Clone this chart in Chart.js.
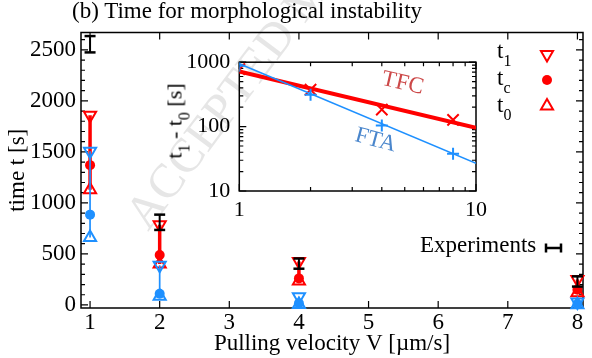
<!DOCTYPE html>
<html>
<head>
<meta charset="utf-8">
<script src="https://cdn.jsdelivr.net/npm/chart.js@4/dist/chart.umd.min.js"></script>
<style>
html, body { margin: 0; padding: 0; background: #fff; }
#wrap { position: relative; width: 592px; height: 358px; overflow: hidden;
  font-family: "Liberation Serif", "Times New Roman", serif; color: #000; }
#wrap canvas { position: absolute; }
#main { left: 0; top: 0; }
#inset { left: 150px; top: 40px; }
.t { position: absolute; font-size: 23px; line-height: 23px; white-space: nowrap; }
.t sub { font-size: 16px; vertical-align: -8px; line-height: 0; }
#mark { font-size: 48px; line-height: 48px; color: #e6e6e6; left: 148px; top: 192px;
  transform-origin: 0 40px; transform: rotate(-53deg); }
.lab { transform: translate(-50%, -50%) rotate(13deg); }
#ititle { font-size: 22px; transform: translate(-50%, -50%) rotate(-90deg); }
</style>
</head>
<body>
<div id="wrap">
  <div id="mark" class="t">ACCEPTED MANUSCRIPT</div>
  <canvas id="main" width="592" height="358"></canvas>
  <canvas id="inset" width="345" height="185"></canvas>
  <div class="t" style="left:72px;top:-1px">(b) Time for morphological instability</div>
  <div class="t" style="left:497px;top:39px">t<sub>1</sub></div>
  <div class="t" style="left:497px;top:66px">t<sub>c</sub></div>
  <div class="t" style="left:497px;top:92.5px">t<sub>0</sub></div>
  <div class="t" style="left:420px;top:232.5px">Experiments</div>
  <div id="ititle" class="t" style="left:174px;top:121px">t<sub>1</sub> - t<sub>0</sub> [s]</div>
  <div class="t lab" style="left:403px;top:82px;color:#cc4848">TFC</div>
  <div class="t lab" style="left:376px;top:139px;color:#4a86cc;transform:translate(-50%,-50%) rotate(15deg)">FTA</div>
</div>
<script>
const FONT = '"Liberation Serif", "Times New Roman", serif';
const RED = '#ff0000';
const BLUE = 'rgb(30,144,255)';

// main plot: pulling velocity V [um/s] vs time [s]
const V = [1, 2, 4, 8];
const RED_T1 = [1860, 785, 425, 250];
const RED_TC = [1370, 490, 260, 150];
const RED_T0 = [1130, 400, 235, 120];
const BLUE_T1 = [1505, 390, 80, 30];
const BLUE_TC = [885, 110, 15, 8];
const BLUE_T0 = [660, 85, 5, 3];
const EXP_MEAN = [2555, 810, 405, 230];
const EXP_ERR = [80, 75, 50, 50];

const X_TICKS = [1, 2, 3, 4, 5, 6, 7, 8];
const Y_TICKS = [0, 500, 1000, 1500, 2000, 2500];

// inset: t1 - t0 vs V, log-log
const INSET_V = [1, 2, 4, 8];
const TFC = [782, 374, 184, 127];
const FTA = [880, 311, 104, 38];
const FIT_V = [1, 10];
const TFC_FIT = [716, 96];
const FTA_FIT = [945, 27];
const INSET_X_TICKS = [1, 10];
const INSET_Y_TICKS = [10, 100, 1000];

const pts = (xs, ys) => xs.map((x, i) => ({ x, y: ys[i] }));
function segs(lo, hi) {
  const out = [];
  V.forEach((x, i) => { out.push({ x, y: lo[i] }, { x, y: hi[i] }, { x, y: null }); });
  return out;
}

function tri(ctx, x, y, r, down) {
  const s = down ? -1 : 1;
  ctx.beginPath();
  ctx.moveTo(x, y - s * r);
  ctx.lineTo(x + 0.866 * r, y + s * 0.5 * r);
  ctx.lineTo(x - 0.866 * r, y + s * 0.5 * r);
  ctx.closePath();
  ctx.stroke();
}

// box + inward ticks on all four sides
function frame(cfg) {
  return {
    id: 'frame',
    beforeDatasetsDraw(chart) {
      const { ctx, chartArea: a, scales: { x, y } } = chart;
      ctx.save();
      ctx.strokeStyle = '#000';
      ctx.lineWidth = 1.5;
      ctx.strokeRect(a.left, a.top, a.right - a.left, a.bottom - a.top);
      ctx.lineWidth = 1.2;
      ctx.beginPath();
      const xt = (list, len) => list.forEach(v => {
        const px = x.getPixelForValue(v);
        ctx.moveTo(px, a.bottom); ctx.lineTo(px, a.bottom - len);
        ctx.moveTo(px, a.top); ctx.lineTo(px, a.top + len);
      });
      const yt = (list, len) => list.forEach(v => {
        const py = y.getPixelForValue(v);
        ctx.moveTo(a.left, py); ctx.lineTo(a.left + len, py);
        ctx.moveTo(a.right, py); ctx.lineTo(a.right - len, py);
      });
      xt(cfg.xMajor, 7); xt(cfg.xMinor, 4);
      yt(cfg.yMajor, 7); yt(cfg.yMinor, 4);
      ctx.stroke();
      ctx.restore();
    }
  };
}

const mainMinorY = [];
for (let v = 100; v <= 2600; v += 100) if (v % 500) mainMinorY.push(v);

const legendMarks = {
  id: 'legendMarks',
  afterDraw(chart) {
    const ctx = chart.ctx;
    ctx.save();
    ctx.strokeStyle = RED; ctx.fillStyle = RED; ctx.lineWidth = 2;
    tri(ctx, 547, 54.5, 7, true);
    ctx.beginPath(); ctx.arc(547, 80, 5, 0, Math.PI * 2); ctx.fill();
    tri(ctx, 547, 106, 7, false);
    // experiments key
    ctx.strokeStyle = '#000'; ctx.lineWidth = 2.5;
    ctx.beginPath();
    ctx.moveTo(546, 248); ctx.lineTo(561, 248);
    ctx.moveTo(546, 243.5); ctx.lineTo(546, 252.5);
    ctx.moveTo(561, 243.5); ctx.lineTo(561, 252.5);
    ctx.stroke();
    ctx.restore();
  }
};

const tickFont = { family: FONT, size: 23 };
const numLabel = v => String(v);

new Chart(document.getElementById('main'), {
  type: 'scatter',
  data: {
    datasets: [
      { data: segs(EXP_MEAN.map((m, i) => m - EXP_ERR[i]), EXP_MEAN.map((m, i) => m + EXP_ERR[i])),
        showLine: true, borderColor: '#000', borderWidth: 2, pointStyle: 'line', pointRadius: 5.5,
        pointBorderWidth: 2.5, pointBorderColor: '#000', spanGaps: false, clip: false, order: 0 },
      { data: pts(V, BLUE_TC), pointStyle: 'circle', pointRadius: 5, backgroundColor: BLUE,
        borderColor: BLUE, pointBorderWidth: 0, clip: false, order: 1 },
      { data: pts(V, BLUE_T1), pointStyle: 'triangle', rotation: 180, pointRadius: 7,
        borderColor: BLUE, backgroundColor: 'transparent', pointBorderWidth: 2, clip: false, order: 2 },
      { data: pts(V, BLUE_T0), pointStyle: 'triangle', pointRadius: 7,
        borderColor: BLUE, backgroundColor: 'transparent', pointBorderWidth: 2, clip: false, order: 2 },
      { data: segs(BLUE_T0, BLUE_T1), showLine: true, borderColor: BLUE, borderWidth: 1.7,
        pointRadius: 0, spanGaps: false, clip: false, order: 3 },
      { data: pts(V, RED_TC), pointStyle: 'circle', pointRadius: 5, backgroundColor: RED,
        borderColor: RED, pointBorderWidth: 0, clip: false, order: 4 },
      { data: pts(V, RED_T1), pointStyle: 'triangle', rotation: 180, pointRadius: 7,
        borderColor: RED, backgroundColor: 'transparent', pointBorderWidth: 2, clip: false, order: 5 },
      { data: pts(V, RED_T0), pointStyle: 'triangle', pointRadius: 7,
        borderColor: RED, backgroundColor: 'transparent', pointBorderWidth: 2, clip: false, order: 5 },
      { data: segs(RED_T0, RED_T1), showLine: true, borderColor: RED, borderWidth: 3.5,
        pointRadius: 0, spanGaps: false, clip: false, order: 6 }
    ]
  },
  options: {
    responsive: false,
    animation: false,
    layout: { padding: { left: 0, right: 4, top: 32.5, bottom: 0 } },
    plugins: { legend: { display: false }, tooltip: { enabled: false } },
    scales: {
      x: {
        type: 'linear', min: 0.87, max: 8.08,
        afterBuildTicks: s => { s.ticks = X_TICKS.map(v => ({ value: v })); },
        afterFit: s => { s.height = 50; },
        grid: { display: false, drawTicks: false }, border: { display: false },
        ticks: { padding: 1, color: '#000', font: tickFont, maxRotation: 0, autoSkip: false, callback: numLabel },
        title: { display: true, text: 'Pulling velocity V [µm/s]', color: '#000', font: tickFont,
          padding: { top: 0, bottom: 0 } }
      },
      y: {
        min: -30, max: 2670,
        afterBuildTicks: s => { s.ticks = Y_TICKS.map(v => ({ value: v })); },
        afterFit: s => { s.width = 81; },
        grid: { display: false, drawTicks: false }, border: { display: false },
        ticks: { padding: 5, color: '#000', font: tickFont, autoSkip: false, callback: numLabel },
        title: { display: true, text: 'time t [s]', color: '#000', font: tickFont,
          padding: { top: 4, bottom: 0 } }
      }
    }
  },
  plugins: [frame({ xMajor: X_TICKS, xMinor: [], yMajor: Y_TICKS, yMinor: mainMinorY }), legendMarks]
});

const insetMinorX = [2, 3, 4, 5, 6, 7, 8, 9];
const insetMinorY = [];
[10, 100].forEach(d => { for (let k = 2; k <= 9; k++) insetMinorY.push(k * d); });
const insetFont = { family: FONT, size: 22 };

new Chart(document.getElementById('inset'), {
  type: 'scatter',
  data: {
    datasets: [
      { data: pts(INSET_V, FTA), pointStyle: 'cross', pointRadius: 6, pointBorderWidth: 2,
        borderColor: BLUE, backgroundColor: BLUE, order: 0 },
      { data: pts(FIT_V, FTA_FIT), showLine: true, borderColor: BLUE, borderWidth: 1.5,
        pointRadius: 0, order: 1 },
      { data: pts(INSET_V, TFC), pointStyle: 'crossRot', pointRadius: 8, pointBorderWidth: 2,
        borderColor: RED, backgroundColor: RED, order: 2 },
      { data: pts(FIT_V, TFC_FIT), showLine: true, borderColor: RED, borderWidth: 4,
        pointRadius: 0, order: 3 }
    ]
  },
  options: {
    responsive: false,
    animation: false,
    layout: { padding: { left: 0, right: 19, top: 13.3, bottom: 0 } },
    plugins: { legend: { display: false }, tooltip: { enabled: false } },
    scales: {
      x: {
        type: 'logarithmic', min: 1, max: 10,
        afterBuildTicks: s => { s.ticks = INSET_X_TICKS.map(v => ({ value: v })); },
        afterFit: s => { s.height = 34; },
        grid: { display: false, drawTicks: false }, border: { display: false },
        ticks: { padding: 6, color: '#000', font: insetFont, maxRotation: 0, autoSkip: false, callback: numLabel }
      },
      y: {
        type: 'logarithmic', min: 10, max: 1000,
        afterBuildTicks: s => { s.ticks = INSET_Y_TICKS.map(v => ({ value: v })); },
        afterFit: s => { s.width = 89.3; },
        grid: { display: false, drawTicks: false }, border: { display: false },
        ticks: { padding: 9, color: '#000', font: insetFont, autoSkip: false, callback: numLabel }
      }
    }
  },
  plugins: [frame({ xMajor: INSET_X_TICKS, xMinor: insetMinorX, yMajor: INSET_Y_TICKS, yMinor: insetMinorY })]
});
</script>
</body>
</html>
